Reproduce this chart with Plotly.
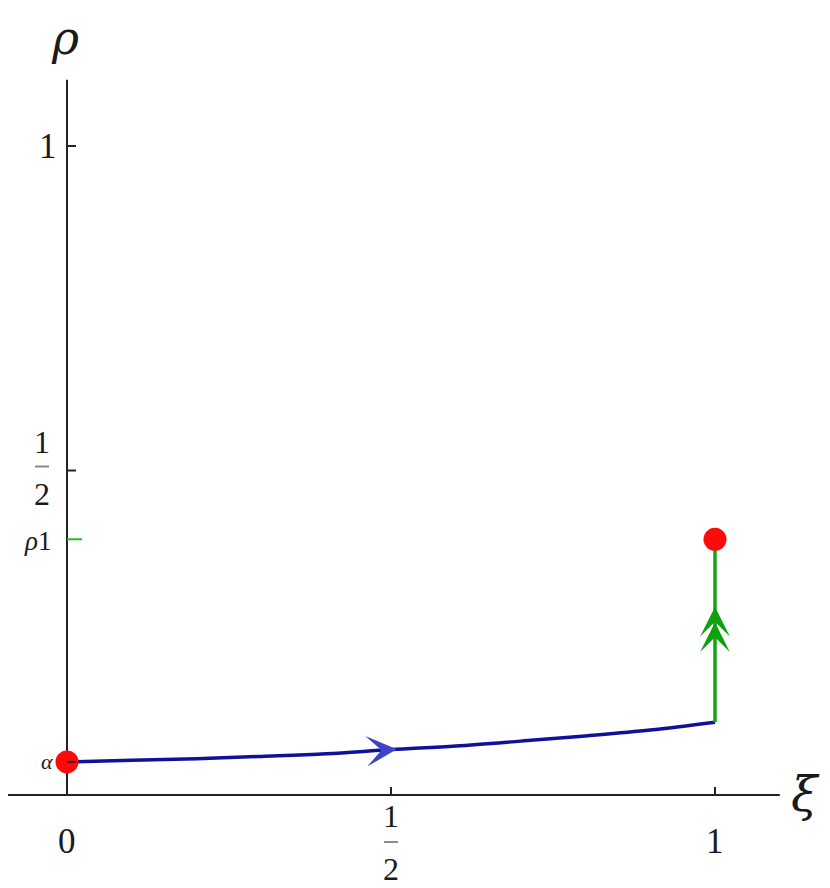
import plotly.graph_objects as go

# ---- data ----
xi_blue = [0.0, 0.1, 0.2, 0.3, 0.4, 0.5, 0.6, 0.7, 0.8, 0.9, 1.0]
rho_blue = [0.051, 0.0535, 0.056, 0.0595, 0.0635, 0.070, 0.0755, 0.083, 0.091, 0.100, 0.112]
xi_green = [1.0, 1.0]
rho_green = [0.112, 0.394]
alpha_val = 0.051
rho1_val = 0.394
red_x = [0.0, 1.0]
red_y = [alpha_val, rho1_val]
blue_arrow_tail = (0.486, 0.0690)
blue_arrow_head = (0.509, 0.0705)
green_arrow_tails = [(1.0, 0.245), (1.0, 0.268)]
green_arrow_heads = [(1.0, 0.266), (1.0, 0.290)]
x_ticks = [0.0, 0.5, 1.0]
y_ticks = [0.5, 1.0]
x_axis_range = [-0.099, 1.100]
y_axis_range = [0.0, 1.102]

# page body has an 8px margin: shift the ranges to compensate
XR = [-59 / 648, (830 - 59) / 648]
YR = [(787 - 888) / 649, 787 / 649]

fig = go.Figure()

# axes lines
fig.add_trace(go.Scatter(x=x_axis_range, y=[0, 0], mode="lines",
                         line=dict(color="#222222", width=2), hoverinfo="skip"))
fig.add_trace(go.Scatter(x=[0, 0], y=y_axis_range, mode="lines",
                         line=dict(color="#222222", width=2), hoverinfo="skip"))

# blue curve
fig.add_trace(go.Scatter(x=xi_blue, y=rho_blue, mode="lines",
                         line=dict(color="#10109a", width=3.5, shape="spline"),
                         hoverinfo="skip"))
# green segment
fig.add_trace(go.Scatter(x=xi_green, y=rho_green, mode="lines",
                         line=dict(color="#16a216", width=3.5), hoverinfo="skip"))
# red points
fig.add_trace(go.Scatter(x=red_x, y=red_y, mode="markers",
                         marker=dict(size=23, color="#ff0a0a", line=dict(width=0)),
                         hoverinfo="skip"))

shapes = []
for t in x_ticks[1:]:
    shapes.append(dict(type="line", xref="x", yref="y", ysizemode="pixel", yanchor=0,
                       x0=t, x1=t, y0=0, y1=8, line=dict(color="#222222", width=2)))
for t in y_ticks + [alpha_val]:
    shapes.append(dict(type="line", xref="x", yref="y", xsizemode="pixel", xanchor=0,
                       x0=0, x1=9, y0=t, y1=t, line=dict(color="#222222", width=2)))
shapes.append(dict(type="line", xref="x", yref="y", xsizemode="pixel", xanchor=0,
                   x0=0, x1=15, y0=rho1_val, y1=rho1_val, line=dict(color="#22bb22", width=2)))
# fraction bars of the 1/2 tick labels
shapes.append(dict(type="line", xref="x", yref="y", xsizemode="pixel", ysizemode="pixel",
                   xanchor=0.5, yanchor=0, x0=-7, x1=7, y0=-47, y1=-47,
                   line=dict(color="#8a8a8a", width=2)))
shapes.append(dict(type="line", xref="x", yref="y", xsizemode="pixel", ysizemode="pixel",
                   xanchor=0, yanchor=0.5, x0=-32, x1=-18, y0=4, y1=4,
                   line=dict(color="#8a8a8a", width=2)))
fig.update_layout(shapes=shapes)

serif = "Liberation Serif"
ann = []
def txt(x, y, s, size=35, xshift=0, yshift=0, color="#1a1a1a", italic=False, family=serif):
    ann.append(dict(x=x, y=y, xref="x", yref="y", text=(f"<i>{s}</i>" if italic else s),
                    showarrow=False, xshift=xshift, yshift=yshift,
                    font=dict(family=family, size=size, color=color)))

def arrow(tail, head, color, size):
    ann.append(dict(x=head[0], y=head[1], ax=tail[0], ay=tail[1],
                    xref="x", yref="y", axref="x", ayref="y", text="",
                    showarrow=True, arrowhead=3, arrowsize=size, arrowwidth=3,
                    arrowcolor=color))

# arrows
arrow(blue_arrow_tail, blue_arrow_head, "#4040c8", 1.7)
for t, h in zip(green_arrow_tails, green_arrow_heads):
    arrow(t, h, "#0fa00f", 1.65)

# x tick labels
txt(0.0, 0, "0", yshift=-46)
txt(1.0, 0, "1", yshift=-46)
txt(0.5, 0, "1", size=32, yshift=-21)
txt(0.5, 0, "2", size=32, yshift=-74)
# y tick labels
txt(0, 1.0, "1", xshift=-19)
txt(0, 0.5, "1", size=32, xshift=-25, yshift=29)
txt(0, 0.5, "2", size=32, xshift=-25, yshift=-23)
txt(0, rho1_val, "<i>ρ</i>1", size=27, xshift=-30, yshift=-2)
txt(0, alpha_val, "α", size=22, xshift=-20, italic=True)
# axis titles
txt(0, 1.102, "ρ", size=46, xshift=-2, yshift=42, italic=True, family="DejaVu Serif")
txt(1.100, 0, "ξ", size=48, xshift=26, yshift=1, italic=True, family="DejaVu Serif")
fig.update_layout(annotations=ann)

fig.update_layout(
    width=830, height=888,
    margin=dict(l=0, r=0, t=0, b=0),
    paper_bgcolor="white", plot_bgcolor="white",
    showlegend=False,
    xaxis=dict(range=XR, visible=False, fixedrange=True),
    yaxis=dict(range=YR, visible=False, fixedrange=True),
)
fig.write_html("out.html")
